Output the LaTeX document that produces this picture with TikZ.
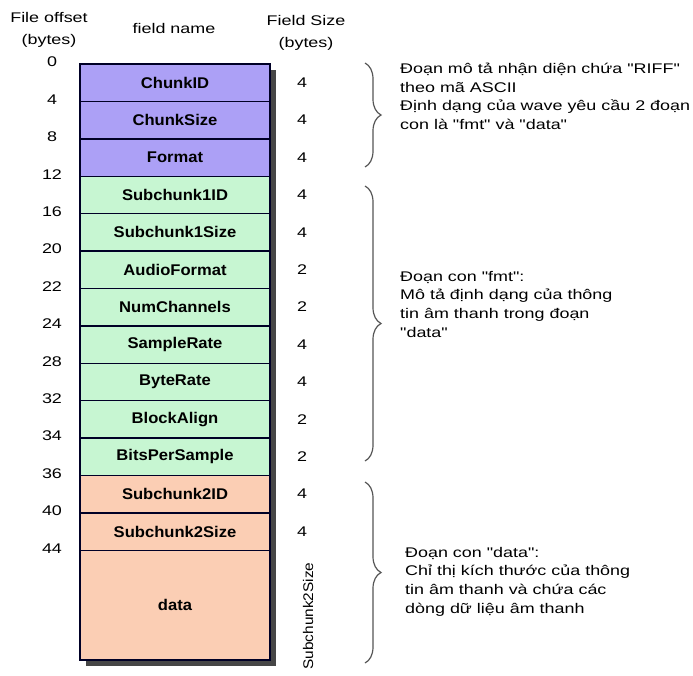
\documentclass[tikz,border=0pt]{standalone}
\usepackage{fontspec}
\setmainfont{Liberation Sans}
\newfontfamily\notefont[FakeStretch=1.28]{Liberation Sans}
\newfontfamily\fieldfont[FakeStretch=1.07]{Liberation Sans}
\newfontfamily\sidefont[FakeStretch=1.1]{Liberation Sans}
\usetikzlibrary{positioning,decorations.pathreplacing}
\definecolor{riffpurple}{RGB}{172,160,246}
\definecolor{fmtgreen}{RGB}{199,246,210}
\definecolor{datasalmon}{RGB}{251,206,180}
\definecolor{shadowgray}{RGB}{70,70,70}
\definecolor{bracegray}{RGB}{85,85,85}
\tikzset{
	field/.style={draw=black!85!blue,line width=1.4pt,minimum width=190pt,minimum height=37.4pt,
		inner sep=0pt,outer sep=0pt,font=\fieldfont\bfseries\fontsize{15.5}{17}\selectfont},
	numtext/.style={inner sep=0pt,font=\notefont\fontsize{14}{22}\selectfont},
	note/.style={anchor=north west,align=left,inner sep=0pt,font=\notefont\fontsize{14}{18.6}\selectfont},
	curly/.style={decorate,decoration={brace,amplitude=16pt},draw=bracegray,line width=1.2pt}
}
\begin{document}
\begin{tikzpicture}[x=1pt,y=-1pt]
	\useasboundingbox (0,0) rectangle (693,675);
	%%%%%%%%%%%%%%%%%%%
	%    headings     %
	%%%%%%%%%%%%%%%%%%%
		\node[numtext,align=center] (hoffset) at (49,30) {File offset\\(bytes)};
		\node[numtext] (hname) at (174,28) {field name};
		\node[numtext,align=center] (hsize) at (306,33) {Field Size\\(bytes)};
	%%%%%%%%%%%%%%%%%%%
	%   chunk layout  %
	%%%%%%%%%%%%%%%%%%%
		\def\topY{64}
		\def\rowH{37.4}
		% shadow behind the stack
			\fill[shadowgray] (86,70) rectangle (276,666);
		% header fields
			\foreach \i/\name/\off/\size/\col in {
				1/ChunkID/0/4/riffpurple,
				2/ChunkSize/4/4/riffpurple,
				3/Format/8/4/riffpurple,
				4/Subchunk1ID/12/4/fmtgreen,
				5/Subchunk1Size/16/4/fmtgreen,
				6/AudioFormat/20/2/fmtgreen,
				7/NumChannels/22/2/fmtgreen,
				8/SampleRate/24/4/fmtgreen,
				9/ByteRate/28/4/fmtgreen,
				10/BlockAlign/32/2/fmtgreen,
				11/BitsPerSample/34/2/fmtgreen,
				12/Subchunk2ID/36/4/datasalmon,
				13/Subchunk2Size/40/4/datasalmon}
			{
				\node[field,fill=\col,anchor=north] (f\i) at (175,\topY+\rowH*\i-\rowH) {\name};
				\node[numtext] (off\i) at (52,\topY+\rowH*\i-\rowH-2) {\off};
				\node[numtext] (sz\i) at (302,\topY+\rowH*\i-0.5*\rowH) {\size};
			}
		% sound data
			\node[field,fill=datasalmon,minimum height=109.8pt,below=0pt of f13] (f14) {data};
			\node[numtext] (off14) at (52,\topY+\rowH*13-2) {44};
			\node[inner sep=0pt,font=\sidefont\fontsize{14}{16}\selectfont,rotate=90] (sz14) at (308,616) {Subchunk2Size};
	%%%%%%%%%%%%%%%%%%%
	%      notes      %
	%%%%%%%%%%%%%%%%%%%
		% RIFF descriptor
			\coordinate (b1top) at (365,63);
			\coordinate (b1bot) at (365,167);
			\draw[curly] (b1top) -- (b1bot);
			\node[note] (note1) at (400,63) {Đoạn mô tả nhận diện chứa "RIFF"\\theo mã ASCII\\Định dạng của wave yêu cầu 2 đoạn\\con là "fmt" và "data"};
		% fmt sub-chunk
			\coordinate (b2top) at (365,186);
			\coordinate (b2bot) at (365,461);
			\draw[curly] (b2top) -- (b2bot);
			\node[note] (note2) at (400,271) {Đoạn con "fmt":\\Mô tả định dạng của thông\\tin âm thanh trong đoạn\\"data"};
		% data sub-chunk
			\coordinate (b3top) at (365,482);
			\coordinate (b3bot) at (365,663);
			\draw[curly] (b3top) -- (b3bot);
			\node[note] (note3) at (405,547) {Đoạn con "data":\\Chỉ thị kích thước của thông\\tin âm thanh và chứa các\\dòng dữ liệu âm thanh};
\end{tikzpicture}
\end{document}
